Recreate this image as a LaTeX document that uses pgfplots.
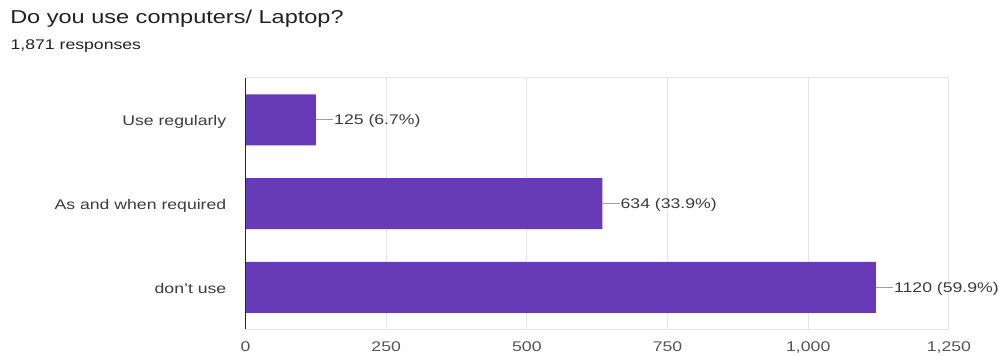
\documentclass[border=0pt]{standalone}
\usepackage{fontspec}
\setmainfont{Liberation Sans}[FakeStretch=1.26]
\usepackage{pgfplots}
\pgfplotsset{compat=1.18}
\definecolor{barpurple}{HTML}{673AB7}
\definecolor{titlecol}{HTML}{212121}
\definecolor{labcol}{HTML}{3C3C3C}
\definecolor{tickcol}{HTML}{555555}
\definecolor{gridcol}{HTML}{E6E6E6}
\definecolor{conncol}{HTML}{9E9E9E}
\begin{document}
\begin{tikzpicture}
\useasboundingbox (0,0) rectangle (751.5pt,267pt);
\node[anchor=base west, inner sep=0, text=titlecol, font=\fontsize{14}{16}\selectfont] at (7.5pt,249pt) {Do you use computers/ Laptop?};
\node[anchor=base west, inner sep=0, text=titlecol, font=\fontsize{10.5}{12}\selectfont] at (7.8pt,230pt) {1,871 responses};
\begin{axis}[
  at={(184.1pt,20.0pt)}, anchor=south west,
  scale only axis, width=527.6pt, height=188.5pt,
  xbar, bar width=38.3pt,
  xmin=0, xmax=1250, ymin=-0.5, ymax=2.5,
  y dir=reverse,
  ytick={0,1,2},
  yticklabels={Use regularly, As and when required, don't use},
  xtick={0,250,500,750,1000,1250},
  xticklabels={0,250,500,750,{1,000},{1,250}},
  major tick length=0pt,
  xmajorgrids,
  grid style={gridcol, line width=0.75pt},
  axis line style={gridcol, line width=0.75pt},
  xticklabel style={anchor=base, yshift=-16.8pt, inner sep=0pt, text=tickcol, font=\fontsize{10.5}{12}\selectfont},
  yticklabel style={anchor=base east, yshift=-4.4pt, xshift=-14.2pt, inner sep=0pt, text=labcol, font=\fontsize{10.5}{12}\selectfont},
  point meta=explicit symbolic,
  nodes near coords={\textcolor{conncol}{\rule[3.4pt]{12.8pt}{0.7pt}}\hspace{0.8pt}\pgfplotspointmeta},
  nodes near coords style={anchor=base west, inner sep=0pt, yshift=-3.8pt, text=labcol, font=\fontsize{10.5}{12}\selectfont},
  clip=false,
]
\addplot[fill=barpurple, draw=none] coordinates {
  (125,0) [125 (6.7\%)]
  (634,1) [634 (33.9\%)]
  (1120,2) [1120 (59.9\%)]
};
\draw[black!85, line width=1pt] (axis cs:0,-0.5) -- (axis cs:0,2.5);
\end{axis}
\end{tikzpicture}
\end{document}
